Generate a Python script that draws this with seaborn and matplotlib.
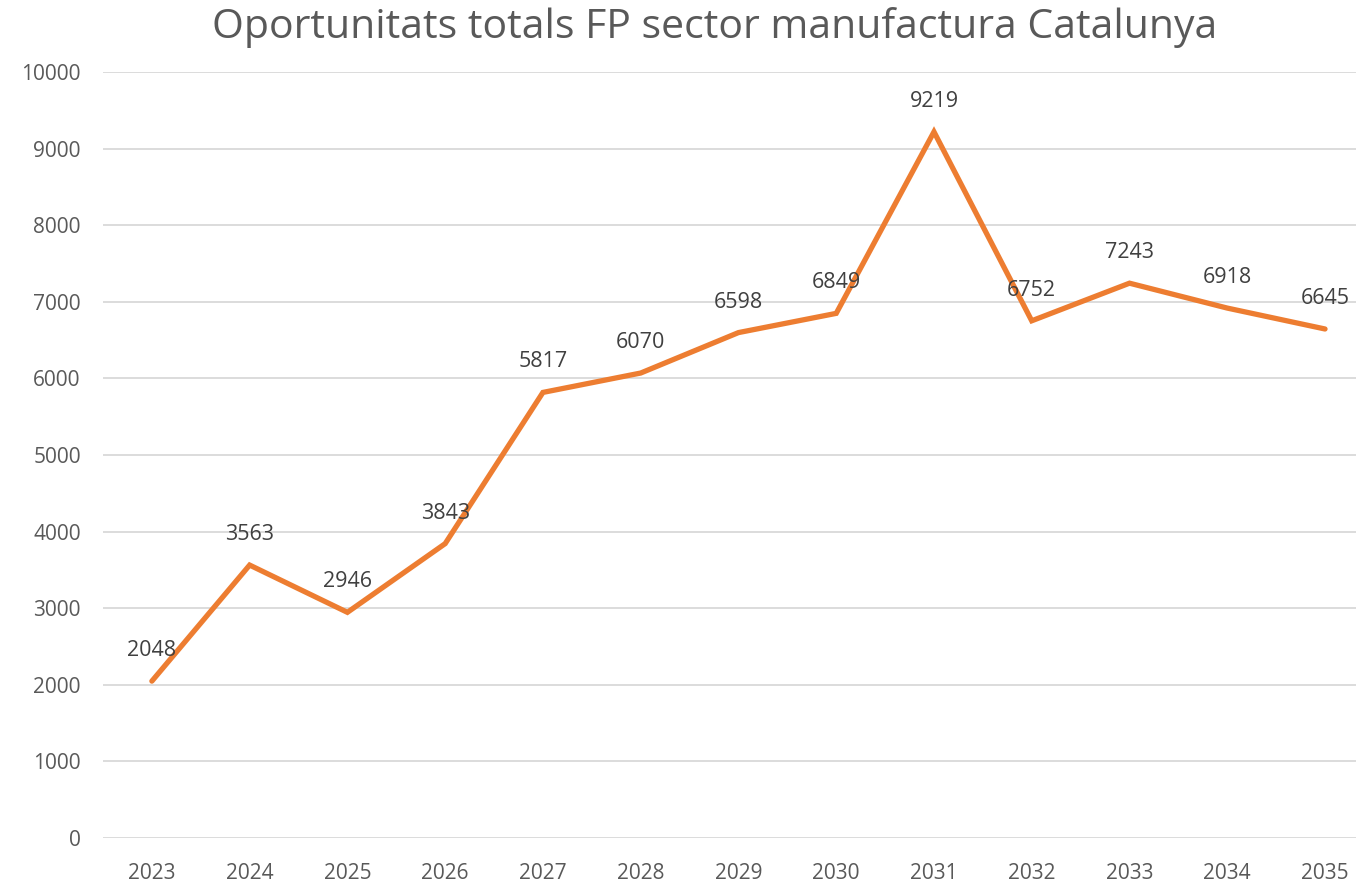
import numpy as np
import pandas as pd
import matplotlib
matplotlib.use("Agg")
import matplotlib.pyplot as plt
import seaborn as sns

# ---- Data ----
YEARS = ["2023", "2024", "2025", "2026", "2027", "2028", "2029",
         "2030", "2031", "2032", "2033", "2034", "2035"]
OPORTUNITATS = [2048, 3563, 2946, 3843, 5817, 6070, 6598,
                6849, 9219, 6752, 7243, 6918, 6645]
Y_TICKS = [0, 1000, 2000, 3000, 4000, 5000, 6000, 7000, 8000, 9000, 10000]
TITLE = "Oportunitats totals FP sector manufactura Catalunya"

ORANGE = "#ED7D31"
TEXT = "#595959"
LABEL = "#404040"
GRID = "#D9D9D9"


def main():
    sns.set_theme(style="white")
    plt.rcParams["font.family"] = ["Open Sans", "DejaVu Sans"]

    df = pd.DataFrame({"Any": YEARS, "Oportunitats": OPORTUNITATS})
    df["pos"] = np.arange(len(df))

    fig = plt.figure(figsize=(13.56, 8.83), dpi=100)
    ax = fig.add_axes([103 / 1356, 1 - 838 / 883, 1 - 103 / 1356, (838 - 72) / 883])

    sns.lineplot(data=df, x="pos", y="Oportunitats", ax=ax, color=ORANGE,
                 linewidth=3.8, solid_capstyle="round", solid_joinstyle="miter",
                 zorder=3)

    # data labels above each point
    for _, row in df.iterrows():
        ax.annotate(f"{row['Oportunitats']}", (row["pos"], row["Oportunitats"]),
                    xytext=(0, 22), textcoords="offset points",
                    ha="center", va="center", fontsize=15.5, color=LABEL, zorder=4)

    ax.set_xlim(-0.5, len(df) - 1 + 31 / 97.83)
    ax.set_ylim(0, 10000)
    ax.set_xticks(df["pos"])
    ax.set_xticklabels(YEARS)
    ax.set_yticks(Y_TICKS)
    ax.set_xlabel("")
    ax.set_ylabel("")

    ax.grid(axis="y", color=GRID, linewidth=1.3)
    ax.grid(axis="x", visible=False)
    ax.set_axisbelow(True)
    for s in ax.spines.values():
        s.set_visible(False)
    ax.tick_params(axis="both", length=0, labelsize=15, labelcolor=TEXT)
    ax.tick_params(axis="y", pad=16)
    ax.tick_params(axis="x", pad=18)

    fig.text(715 / 1356, 1 - 28 / 883, TITLE, ha="center", va="center",
             fontsize=29.5, color=TEXT)

    fig.savefig("out.png", dpi=100)
    plt.close(fig)


if __name__ == "__main__":
    main()
